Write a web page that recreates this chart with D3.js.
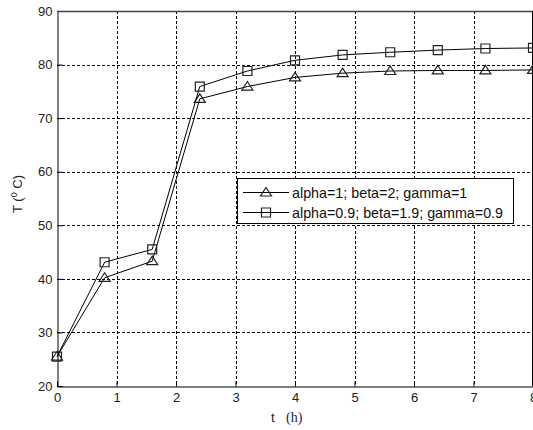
<!DOCTYPE html>
<html>
<head>
<meta charset="utf-8">
<script src="https://cdn.jsdelivr.net/npm/d3@7"></script>
<style>
  body { margin: 0; background: #fff; }
  svg { display: block; }
  text { font-family: "Liberation Sans", Arial, sans-serif; }
</style>
</head>
<body>
<div id="chart"></div>
<script>
// data
const tValues = [0, 0.8, 1.6, 2.4, 3.2, 4.0, 4.8, 5.6, 6.4, 7.2, 8.0];
const seriesA = [25.5, 40.2, 43.3, 73.6, 75.9, 77.6, 78.4, 78.8, 78.9, 78.9, 79.0];
const seriesB = [25.5, 43.1, 45.5, 75.9, 78.8, 80.8, 81.8, 82.3, 82.7, 83.0, 83.1];
const seriesNames = ['alpha=1; beta=2; gamma=1', 'alpha=0.9; beta=1.9; gamma=0.9'];
const xTicks = [0, 1, 2, 3, 4, 5, 6, 7, 8];
const yTicks = [20, 30, 40, 50, 60, 70, 80, 90];

const width = 533;
const height = 430;
const margin = { top: 11, right: 0, bottom: 44, left: 57 };

const svg = d3.select('#chart')
  .append('svg')
  .attr('width', width)
  .attr('height', height);

const xScale = d3.scaleLinear().domain([0, 8]).range([margin.left, width - margin.right]);
const yScale = d3.scaleLinear().domain([20, 90]).range([height - margin.bottom, margin.top]);

const plotLeft = xScale(0), plotRight = xScale(8), plotTop = yScale(90), plotBottom = yScale(20);

// gridlines (dashed)
const grid = svg.append('g').attr('class', 'grid')
  .attr('stroke', '#000').attr('stroke-width', 1).attr('stroke-dasharray', '3,2');
grid.selectAll('line.v')
  .data(xTicks.filter(d => d > 0 && d < 8))
  .join('line')
  .attr('class', 'v')
  .attr('x1', d => Math.round(xScale(d)) + 0.5)
  .attr('x2', d => Math.round(xScale(d)) + 0.5)
  .attr('y1', plotTop)
  .attr('y2', plotBottom);
grid.selectAll('line.h')
  .data(yTicks.filter(d => d > 20 && d < 90))
  .join('line')
  .attr('class', 'h')
  .attr('x1', plotLeft)
  .attr('x2', plotRight)
  .attr('y1', d => Math.round(yScale(d)) + 0.5)
  .attr('y2', d => Math.round(yScale(d)) + 0.5);

// axes
const xAxis = d3.axisBottom(xScale).tickValues(xTicks).tickSize(-5).tickPadding(6);
const yAxis = d3.axisLeft(yScale).tickValues(yTicks).tickSize(-5).tickPadding(5);

const gx = svg.append('g')
  .attr('transform', `translate(0, ${Math.round(plotBottom) + 0.5})`)
  .call(xAxis);
const gy = svg.append('g')
  .attr('transform', `translate(${Math.round(plotLeft) + 0.5}, 0)`)
  .call(yAxis);

[gx, gy].forEach(g => {
  g.select('.domain').attr('stroke', '#000');
  g.selectAll('.tick line').attr('stroke', '#000');
  g.selectAll('.tick text')
    .attr('fill', '#222')
    .style('font-size', '13px')
    .style('font-family', '"Liberation Sans", Arial, sans-serif');
});

// top and right frame
svg.append('line')
  .attr('x1', plotLeft).attr('x2', plotRight)
  .attr('y1', Math.round(plotTop) + 0.5).attr('y2', Math.round(plotTop) + 0.5)
  .attr('stroke', '#444').attr('stroke-width', 1.3);
svg.append('line')
  .attr('x1', plotRight - 0.5).attr('x2', plotRight - 0.5)
  .attr('y1', plotTop).attr('y2', plotBottom)
  .attr('stroke', '#000');

// series
const lineGen = d3.line()
  .x((d, i) => xScale(tValues[i]))
  .y(d => yScale(d));

const triPath = 'M0,-5L5.5,3.5L-5.5,3.5Z';
const sqPath = 'M-4.5,-4.5H4.5V4.5H-4.5Z';

const series = [
  { values: seriesA, marker: triPath, name: seriesNames[0] },
  { values: seriesB, marker: sqPath, name: seriesNames[1] }
];

series.forEach(s => {
  svg.append('path')
    .datum(s.values)
    .attr('d', lineGen)
    .attr('fill', 'none')
    .attr('stroke', '#000')
    .attr('stroke-width', 1);

  svg.append('g')
    .selectAll('path')
    .data(s.values)
    .join('path')
    .attr('d', s.marker)
    .attr('transform', (d, i) => `translate(${xScale(tValues[i])}, ${yScale(d)})`)
    .attr('fill', 'none')
    .attr('stroke', '#222')
    .attr('stroke-width', 1.2);
});

// legend
const legend = svg.append('g').attr('transform', 'translate(237, 178)');
legend.append('rect')
  .attr('x', 0.5).attr('y', 0.5)
  .attr('width', 276).attr('height', 45)
  .attr('fill', '#fff')
  .attr('stroke', '#000');

series.forEach((s, i) => {
  const y = 14.5 + i * 20;
  legend.append('line')
    .attr('x1', 6).attr('x2', 52)
    .attr('y1', y).attr('y2', y)
    .attr('stroke', '#000');
  legend.append('path')
    .attr('d', s.marker)
    .attr('transform', `translate(29, ${y})`)
    .attr('fill', 'none')
    .attr('stroke', '#222')
    .attr('stroke-width', 1.2);
  legend.append('text')
    .attr('x', 55)
    .attr('y', y + 5)
    .attr('fill', '#111')
    .style('font-size', '14.3px')
    .text(s.name);
});

// axis labels
const yLabel = svg.append('text')
  .attr('transform', 'translate(22, 194) rotate(-90)')
  .attr('text-anchor', 'middle')
  .attr('fill', '#222')
  .style('font-size', '13px');
yLabel.append('tspan').text('T (');
yLabel.append('tspan').attr('dy', -5).style('font-size', '9px').text('0');
yLabel.append('tspan').attr('dy', 5).text(' C)');

const xLabel = svg.append('text')
  .attr('x', 271)
  .attr('y', 422)
  .attr('fill', '#222')
  .style('font-size', '13px');
xLabel.append('tspan').text('t  ');
xLabel.append('tspan')
  .attr('x', 286)
  .attr('fill', '#1c1c50')
  .style('font-family', '"Liberation Serif", "Times New Roman", serif')
  .style('font-size', '14px')
  .text('(h)');
</script>
</body>
</html>
